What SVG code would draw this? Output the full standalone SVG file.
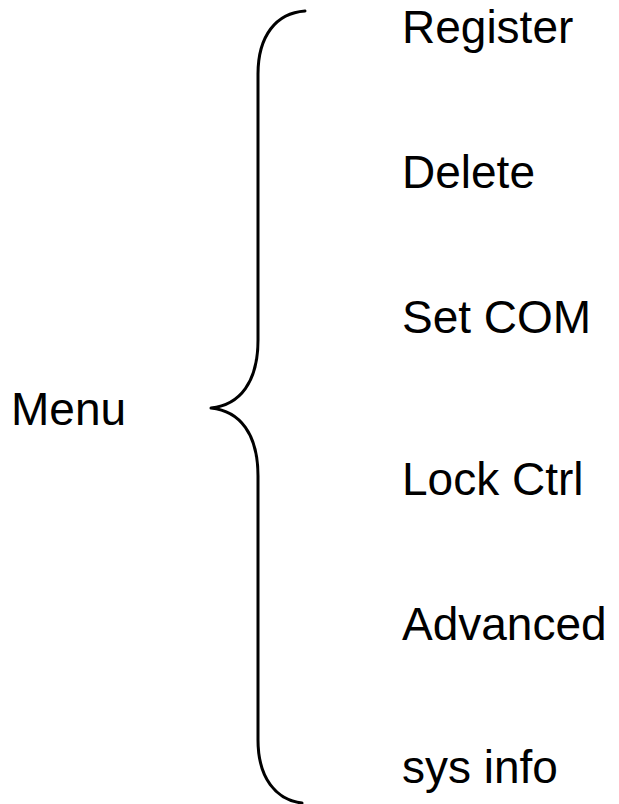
<svg xmlns="http://www.w3.org/2000/svg" width="619" height="804" viewBox="0 0 619 804">
<style>
.t{font-family:"Liberation Sans",Arial,sans-serif;font-size:46px;fill:#000}
.b{fill:none;stroke:#000;stroke-width:3;stroke-linecap:round;stroke-linejoin:round}
</style>
<rect width="619" height="804" fill="#fff"/>
<g id="connectors">
<path class="b" d="M305,11 C276,13 258,36 258,74 L258,340 C258,382 240,405 211,408 C240,411 258,434 258,476 L258,740 C258,778 276,800 302,803"/>
</g>
<g id="menu"><text class="t" x="11" y="425">Menu</text></g>
<g id="register"><text class="t" x="402" y="43">Register</text></g>
<g id="delete"><text class="t" x="402" y="188">Delete</text></g>
<g id="setcom"><text class="t" x="402" y="333">Set COM</text></g>
<g id="lockctrl"><text class="t" x="402" y="495">Lock Ctrl</text></g>
<g id="advanced"><text class="t" x="402" y="640">Advanced</text></g>
<g id="sysinfo"><text class="t" x="402" y="783">sys info</text></g>
</svg>
